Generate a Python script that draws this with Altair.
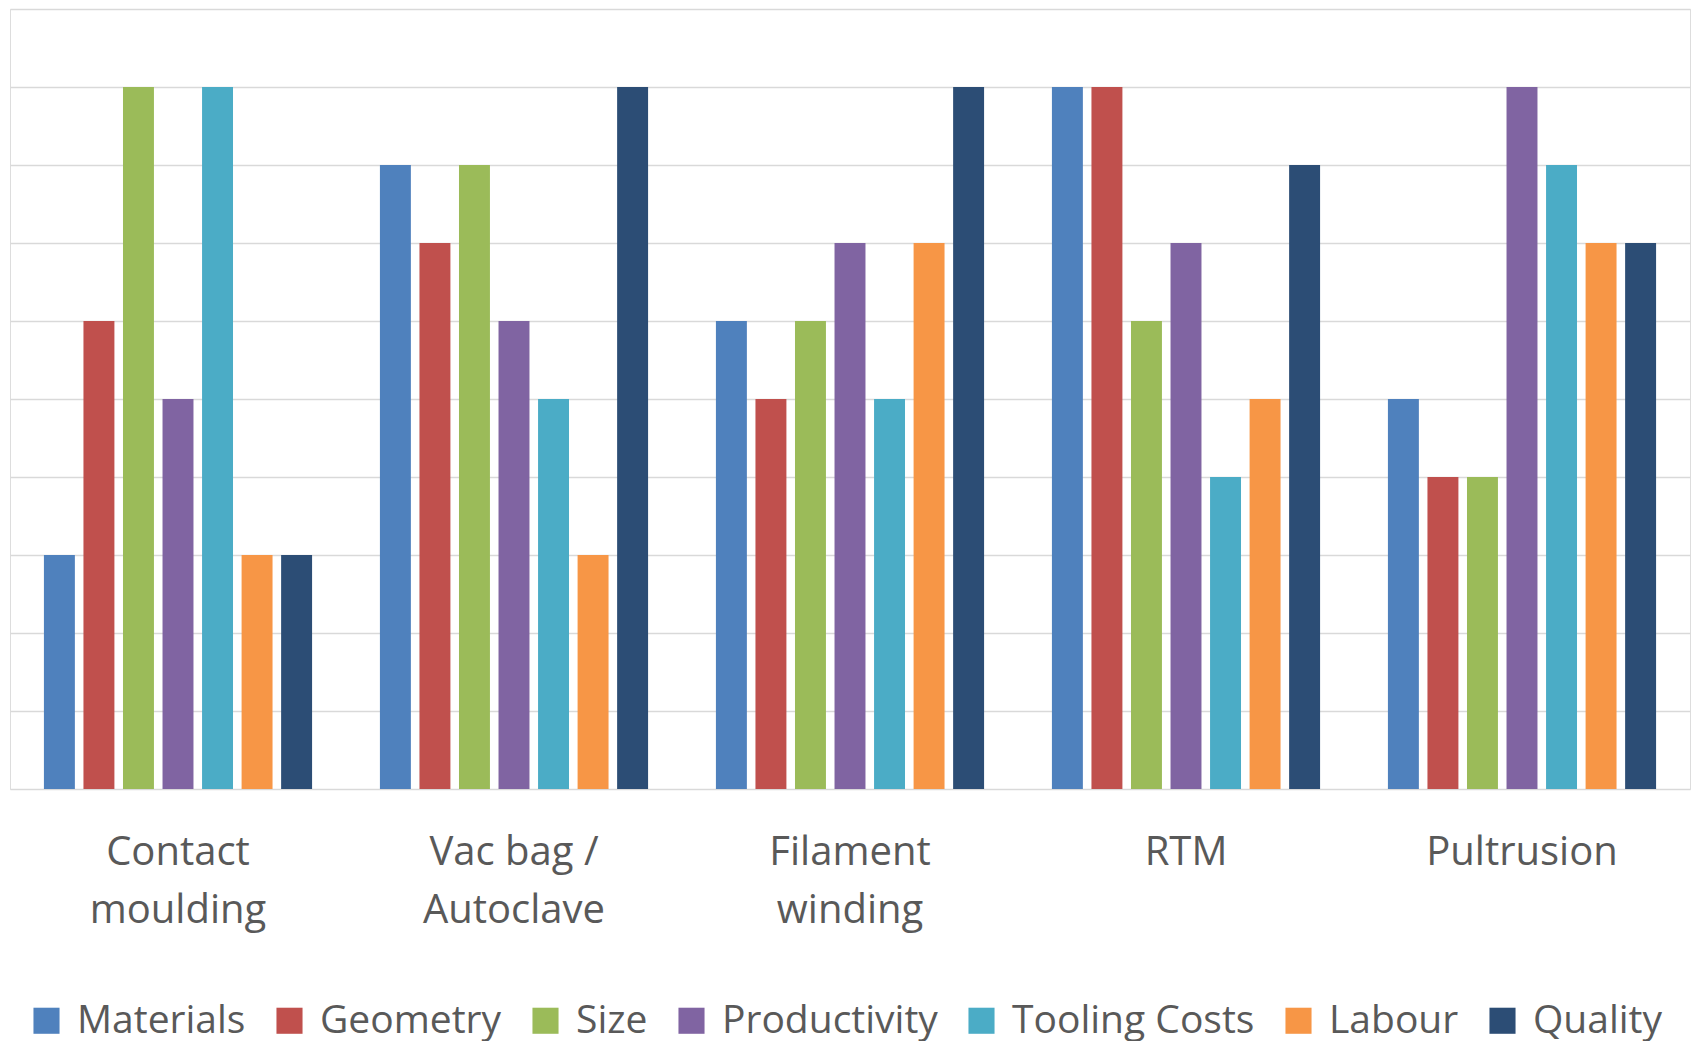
import altair as alt
import pandas as pd

processes = ["Contact moulding", "Vac bag / Autoclave", "Filament winding", "RTM", "Pultrusion"]
factors = ["Materials", "Geometry", "Size", "Productivity", "Tooling Costs", "Labour", "Quality"]
colors = ["#4F81BD", "#C0504D", "#9BBB59", "#8064A2", "#4BACC6", "#F79646", "#2C4D75"]

materials = [3, 8, 6, 9, 5]
geometry = [6, 7, 5, 9, 4]
size = [9, 8, 6, 6, 4]
productivity = [5, 6, 7, 7, 9]
tooling = [9, 5, 5, 4, 8]
labour = [3, 3, 7, 5, 7]
quality = [3, 9, 9, 8, 7]

series = [materials, geometry, size, productivity, tooling, labour, quality]
rows = []
for f, vals in zip(factors, series):
    for p, v in zip(processes, vals):
        rows.append({"process": p, "factor": f, "score": v})
df = pd.DataFrame(rows)

FONT = "Open Sans"
TXT = "#595959"

chart = alt.Chart(df).mark_bar().encode(
    x=alt.X("process:N", sort=processes, title=None,
            scale=alt.Scale(paddingInner=0, paddingOuter=0),
            axis=alt.Axis(labelAngle=0, domain=False, ticks=False,
                          labelFont=FONT, labelFontSize=40, labelColor=TXT,
                          labelLineHeight=58, labelPadding=43, labelLimit=0,
                          labelExpr="datum.label == 'Vac bag / Autoclave' ? ['Vac bag /', 'Autoclave'] : split(datum.label, ' ')")),
    xOffset=alt.XOffset("factor:N", sort=factors,
                        scale=alt.Scale(paddingInner=0.217, paddingOuter=0.858)),
    y=alt.Y("score:Q", title=None, scale=alt.Scale(domain=[0, 10], nice=False),
            axis=alt.Axis(values=list(range(0, 11)), labels=False, ticks=False, domain=False,
                          grid=True, gridColor="#d9d9d9", gridWidth=1.5)),
    color=alt.Color("factor:N", sort=factors,
                    scale=alt.Scale(domain=factors, range=colors),
                    legend=alt.Legend(title=None, orient="none", direction="horizontal",
                                      columns=7, legendX=17, legendY=992,
                                      symbolType="square", symbolSize=680,
                                      symbolStrokeWidth=0, symbolOpacity=1,
                                      labelFont=FONT, labelFontSize=39, labelColor=TXT,
                                      labelOffset=11, columnPadding=24, labelLimit=400)),
).properties(
    width=1680, height=780,
    padding={"left": 10, "top": 9, "right": 2, "bottom": 0},
).configure_view(strokeWidth=0, stroke="transparent").configure(background="white")

chart.save("out.html", embed_options={"renderer": "svg", "actions": False})
